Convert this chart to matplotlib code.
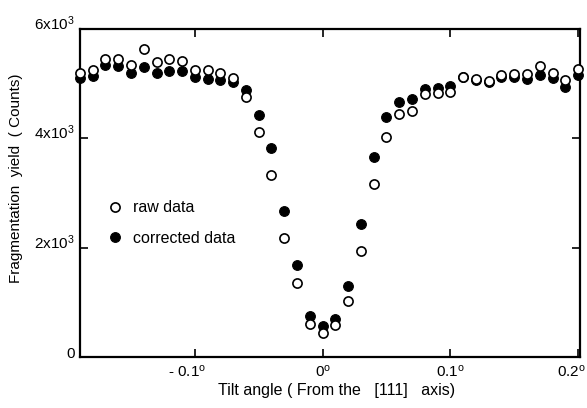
import numpy as np
import matplotlib
matplotlib.use("Agg")
import matplotlib.pyplot as plt
from matplotlib.transforms import ScaledTranslation

plt.rcParams['font.family'] = ['Liberation Sans', 'DejaVu Sans']
plt.rcParams['mathtext.fontset'] = 'custom'
plt.rcParams['mathtext.rm'] = 'Liberation Sans'
plt.rcParams['mathtext.it'] = 'Liberation Sans:italic'
plt.rcParams['mathtext.bf'] = 'Liberation Sans:bold'

# Tilt angle (degrees)
tilt = [-0.19, -0.18, -0.17, -0.16, -0.15, -0.14, -0.13, -0.12, -0.11, -0.10,
        -0.09, -0.08, -0.07, -0.06, -0.05, -0.04, -0.03, -0.02, -0.01, 0.00,
        0.01, 0.02, 0.03, 0.04, 0.05, 0.06, 0.07, 0.08, 0.09, 0.10,
        0.11, 0.12, 0.13, 0.14, 0.15, 0.16, 0.17, 0.18, 0.19, 0.20]

raw_data = [5190, 5250, 5445, 5445, 5340, 5630, 5390, 5445, 5415, 5250,
            5250, 5190, 5110, 4760, 4120, 3330, 2170, 1360, 600, 430,
            580, 1020, 1940, 3160, 4020, 4450, 4500, 4805, 4835, 4850,
            5130, 5080, 5050, 5160, 5175, 5175, 5330, 5200, 5065, 5260]

corrected_data = [5100, 5140, 5335, 5320, 5190, 5310, 5200, 5230, 5230, 5130,
                  5080, 5065, 5035, 4880, 4425, 3815, 2675, 1680, 750, 570,
                  695, 1290, 2440, 3650, 4395, 4670, 4720, 4895, 4915, 4960,
                  5115, 5065, 5035, 5125, 5115, 5085, 5160, 5110, 4945, 5160]

xticks = [-0.1, 0.0, 0.1, 0.2]
xticklabels = ['- 0.1$^{\\rm o}$', '0$^{\\rm o}$', '0.1$^{\\rm o}$', '0.2$^{\\rm o}$']
yticks = [0, 2000, 4000, 6000]
yticklabels = ['0', '2x10$^{3}$', '4x10$^{3}$', '6x10$^{3}$']

W, H = 587, 408
fig = plt.figure(figsize=(W / 100, H / 100), dpi=100)
ax = fig.add_axes([80 / W, 1 - 357 / H, 500 / W, 328 / H])

ax.plot(tilt, corrected_data, 'o', color='black', markersize=7.0,
        markeredgewidth=0.8, clip_on=False, label='corrected data', zorder=3)
ax.plot(tilt, raw_data, 'o', markerfacecolor='white', markeredgecolor='black',
        markersize=6.6, markeredgewidth=1.2, clip_on=False, label='raw data', zorder=4)

ax.set_xlim(-0.1899, 0.2015)
ax.set_ylim(0, 6000)

ax.set_xticks(xticks)
ax.set_xticklabels(xticklabels, fontsize=11)
ax.set_yticks(yticks)
ax.set_yticklabels(yticklabels, fontsize=11)
ax.tick_params(axis='both', direction='in', length=6, width=1.2,
               top=True, right=True, labeltop=False, labelright=False)
ax.tick_params(axis='x', pad=4.5)
ax.tick_params(axis='y', pad=4)

for t in ax.get_yticklabels():
    t.set_va('baseline')
    t.set_transform(t.get_transform() + ScaledTranslation(0, -1 / 100, fig.dpi_scale_trans))

# keep the last x label within the figure
xl = ax.get_xticklabels()
xl[-1].set_transform(xl[-1].get_transform() + ScaledTranslation(-7 / 100, 0, fig.dpi_scale_trans))
xl[0].set_transform(xl[0].get_transform() + ScaledTranslation(-8 / 100, 0, fig.dpi_scale_trans))

for s in ax.spines.values():
    s.set_linewidth(1.6)

fig.text(337 / W, 1 - 391 / H, 'Tilt angle ( From the   [111]   axis)',
         fontsize=11.5, ha='center', va='center')
fig.text(16 / W, 1 - 178 / H, 'Fragmentation  yield  ( Counts)',
         fontsize=11, ha='center', va='center', rotation=90)

handles, labels = ax.get_legend_handles_labels()
leg = ax.legend(handles[::-1], labels[::-1], loc='upper left',
                bbox_to_anchor=(107 / W, 1 - 200.5 / H),
                bbox_transform=fig.transFigure, frameon=False, numpoints=1,
                fontsize=11.5, handlelength=1.0, handletextpad=0.63,
                labelspacing=0.95, borderpad=0, borderaxespad=0)

fig.savefig('out.png', dpi=100)
